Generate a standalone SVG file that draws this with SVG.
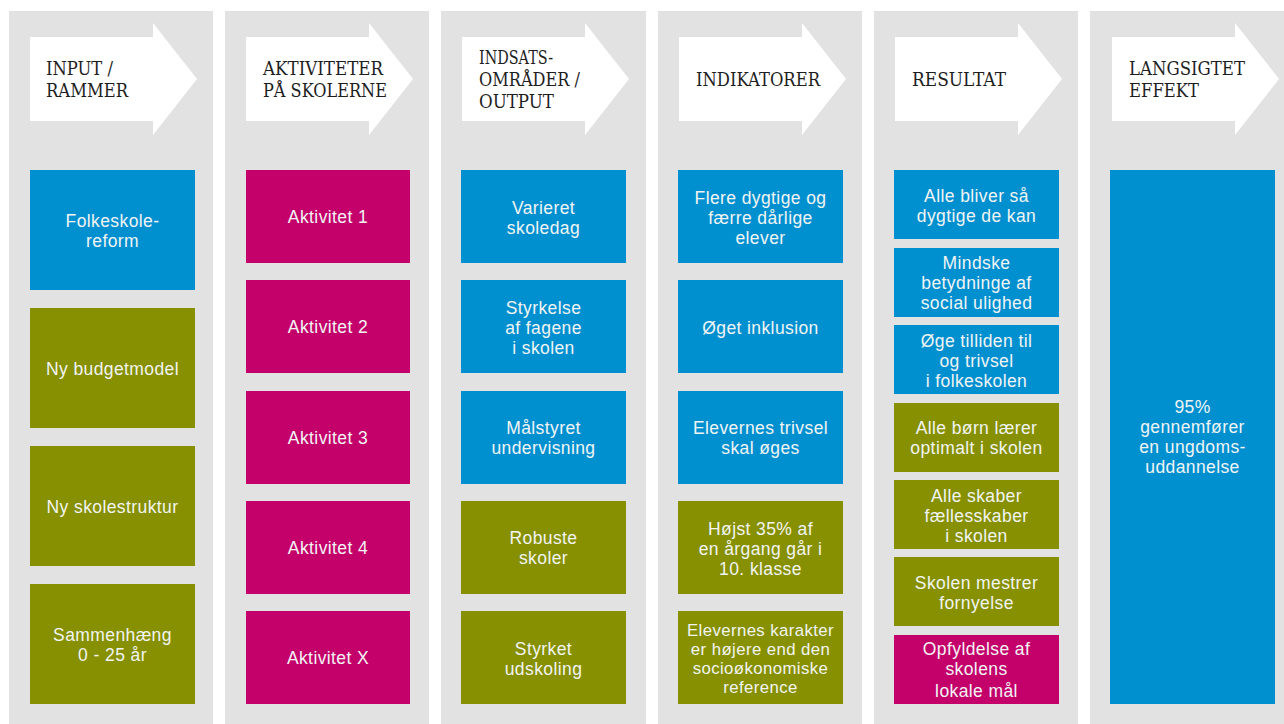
<svg xmlns="http://www.w3.org/2000/svg" width="1284" height="724" viewBox="0 0 1284 724">
<style>
.col{fill:#e2e2e2}
.arr{fill:#ffffff}
.hd{font-family:"DejaVu Serif","Liberation Serif",serif;font-size:18px;fill:#1e1e1e}
.b{fill:#0090d0}
.g{fill:#869000}
.m{fill:#c4006b}
.t{font-family:"Liberation Sans",Arial,sans-serif;font-size:17.5px;letter-spacing:0.4px;fill:#f2f4f4;text-anchor:middle}
.t4{font-size:16.8px}
</style>
<defs>
<polygon id="arrow" points="0,14 123,14 123,0 167,56 123,112 123,98 0,98"/>
</defs>
<rect width="1284" height="724" fill="#ffffff"/>
<g id="columns">
<rect class="col" x="9" y="11" width="204" height="713"/>
<rect class="col" x="225" y="11" width="204" height="713"/>
<rect class="col" x="441" y="11" width="205" height="713"/>
<rect class="col" x="658" y="11" width="204" height="713"/>
<rect class="col" x="874" y="11" width="204" height="713"/>
<rect class="col" x="1090" y="11" width="194" height="713"/>
</g>
<g id="headers">
<g id="h1"><use href="#arrow" class="arr" x="30" y="23"/><text class="hd"><tspan x="46" y="75" textLength="67" lengthAdjust="spacingAndGlyphs">INPUT /</tspan><tspan x="46" y="97" textLength="82" lengthAdjust="spacingAndGlyphs">RAMMER</tspan></text></g>
<g id="h2"><use href="#arrow" class="arr" x="246" y="23"/><text class="hd"><tspan x="263" y="75" textLength="120" lengthAdjust="spacingAndGlyphs">AKTIVITETER</tspan><tspan x="263" y="97" textLength="124" lengthAdjust="spacingAndGlyphs">PÅ SKOLERNE</tspan></text></g>
<g id="h3"><use href="#arrow" class="arr" x="462" y="23"/><text class="hd"><tspan x="479" y="64" textLength="74" lengthAdjust="spacingAndGlyphs">INDSATS-</tspan><tspan x="479" y="86" textLength="101" lengthAdjust="spacingAndGlyphs">OMRÅDER /</tspan><tspan x="479" y="108" textLength="75" lengthAdjust="spacingAndGlyphs">OUTPUT</tspan></text></g>
<g id="h4"><use href="#arrow" class="arr" x="679" y="23"/><text class="hd"><tspan x="696" y="86" textLength="124" lengthAdjust="spacingAndGlyphs">INDIKATORER</tspan></text></g>
<g id="h5"><use href="#arrow" class="arr" x="895" y="23"/><text class="hd"><tspan x="912" y="86" textLength="94" lengthAdjust="spacingAndGlyphs">RESULTAT</tspan></text></g>
<g id="h6"><use href="#arrow" class="arr" x="1112" y="23"/><text class="hd"><tspan x="1129" y="75" textLength="116" lengthAdjust="spacingAndGlyphs">LANGSIGTET</tspan><tspan x="1129" y="97" textLength="70" lengthAdjust="spacingAndGlyphs">EFFEKT</tspan></text></g>
</g>
<g id="connectors"></g>
<g id="col1">
<g id="n1a"><rect class="b" x="30" y="170" width="165" height="120"/><text class="t"><tspan x="112.5" y="227">Folkeskole-</tspan><tspan x="112.5" y="247">reform</tspan></text></g>
<g id="n1b"><rect class="g" x="30" y="308" width="165" height="120"/><text class="t"><tspan x="112.5" y="375">Ny budgetmodel</tspan></text></g>
<g id="n1c"><rect class="g" x="30" y="446" width="165" height="120"/><text class="t"><tspan x="112.5" y="513">Ny skolestruktur</tspan></text></g>
<g id="n1d"><rect class="g" x="30" y="584" width="165" height="120"/><text class="t"><tspan x="112.5" y="641">Sammenhæng</tspan><tspan x="112.5" y="661">0 - 25 år</tspan></text></g>
</g>
<g id="col2">
<g id="n2a"><rect class="m" x="246" y="170" width="164" height="93"/><text class="t"><tspan x="328" y="223">Aktivitet 1</tspan></text></g>
<g id="n2b"><rect class="m" x="246" y="280" width="164" height="93"/><text class="t"><tspan x="328" y="333">Aktivitet 2</tspan></text></g>
<g id="n2c"><rect class="m" x="246" y="391" width="164" height="93"/><text class="t"><tspan x="328" y="444">Aktivitet 3</tspan></text></g>
<g id="n2d"><rect class="m" x="246" y="501" width="164" height="93"/><text class="t"><tspan x="328" y="554">Aktivitet 4</tspan></text></g>
<g id="n2e"><rect class="m" x="246" y="611" width="164" height="93"/><text class="t"><tspan x="328" y="664">Aktivitet X</tspan></text></g>
</g>
<g id="col3">
<g id="n3a"><rect class="b" x="461" y="170" width="165" height="93"/><text class="t"><tspan x="543.5" y="214">Varieret</tspan><tspan x="543.5" y="234">skoledag</tspan></text></g>
<g id="n3b"><rect class="b" x="461" y="280" width="165" height="93"/><text class="t"><tspan x="543.5" y="314">Styrkelse</tspan><tspan x="543.5" y="334">af fagene</tspan><tspan x="543.5" y="354">i skolen</tspan></text></g>
<g id="n3c"><rect class="b" x="461" y="391" width="165" height="93"/><text class="t"><tspan x="543.5" y="434">Målstyret</tspan><tspan x="543.5" y="454">undervisning</tspan></text></g>
<g id="n3d"><rect class="g" x="461" y="501" width="165" height="93"/><text class="t"><tspan x="543.5" y="544">Robuste</tspan><tspan x="543.5" y="564">skoler</tspan></text></g>
<g id="n3e"><rect class="g" x="461" y="611" width="165" height="93"/><text class="t"><tspan x="543.5" y="655">Styrket</tspan><tspan x="543.5" y="675">udskoling</tspan></text></g>
</g>
<g id="col4">
<g id="n4a"><rect class="b" x="678" y="170" width="165" height="93"/><text class="t"><tspan x="760.5" y="204">Flere dygtige og</tspan><tspan x="760.5" y="224">færre dårlige</tspan><tspan x="760.5" y="244">elever</tspan></text></g>
<g id="n4b"><rect class="b" x="678" y="280" width="165" height="93"/><text class="t"><tspan x="760.5" y="334">Øget inklusion</tspan></text></g>
<g id="n4c"><rect class="b" x="678" y="391" width="165" height="93"/><text class="t"><tspan x="760.5" y="434">Elevernes trivsel</tspan><tspan x="760.5" y="454">skal øges</tspan></text></g>
<g id="n4d"><rect class="g" x="678" y="501" width="165" height="93"/><text class="t"><tspan x="760.5" y="535">Højst 35% af</tspan><tspan x="760.5" y="555">en årgang går i</tspan><tspan x="760.5" y="575">10. klasse</tspan></text></g>
<g id="n4e"><rect class="g" x="678" y="611" width="165" height="93"/><text class="t t4"><tspan x="760.5" y="636">Elevernes karakter</tspan><tspan x="760.5" y="655">er højere end den</tspan><tspan x="760.5" y="674">socioøkonomiske</tspan><tspan x="760.5" y="693">reference</tspan></text></g>
</g>
<g id="col5">
<g id="n5a"><rect class="b" x="894" y="170" width="165" height="69"/><text class="t"><tspan x="976.5" y="202">Alle bliver så</tspan><tspan x="976.5" y="222">dygtige de kan</tspan></text></g>
<g id="n5b"><rect class="b" x="894" y="248" width="165" height="69"/><text class="t"><tspan x="976.5" y="269">Mindske</tspan><tspan x="976.5" y="289">betydninge af</tspan><tspan x="976.5" y="309">social ulighed</tspan></text></g>
<g id="n5c"><rect class="b" x="894" y="325" width="165" height="69"/><text class="t"><tspan x="976.5" y="347">Øge tilliden til</tspan><tspan x="976.5" y="367">og trivsel</tspan><tspan x="976.5" y="387">i folkeskolen</tspan></text></g>
<g id="n5d"><rect class="g" x="894" y="403" width="165" height="69"/><text class="t"><tspan x="976.5" y="434">Alle børn lærer</tspan><tspan x="976.5" y="454">optimalt i skolen</tspan></text></g>
<g id="n5e"><rect class="g" x="894" y="480" width="165" height="69"/><text class="t"><tspan x="976.5" y="502">Alle skaber</tspan><tspan x="976.5" y="522">fællesskaber</tspan><tspan x="976.5" y="542">i skolen</tspan></text></g>
<g id="n5f"><rect class="g" x="894" y="557" width="165" height="69"/><text class="t"><tspan x="976.5" y="589">Skolen mestrer</tspan><tspan x="976.5" y="609">fornyelse</tspan></text></g>
<g id="n5g"><rect class="m" x="894" y="635" width="165" height="69"/><text class="t"><tspan x="976.5" y="655">Opfyldelse af</tspan><tspan x="976.5" y="675">skolens</tspan><tspan x="976.5" y="697">lokale mål</tspan></text></g>
</g>
<g id="col6">
<g id="n6a"><rect class="b" x="1110" y="170" width="165" height="534"/><text class="t"><tspan x="1192.5" y="413">95%</tspan><tspan x="1192.5" y="433">gennemfører</tspan><tspan x="1192.5" y="453">en ungdoms-</tspan><tspan x="1192.5" y="473">uddannelse</tspan></text></g>
</g>
</svg>
